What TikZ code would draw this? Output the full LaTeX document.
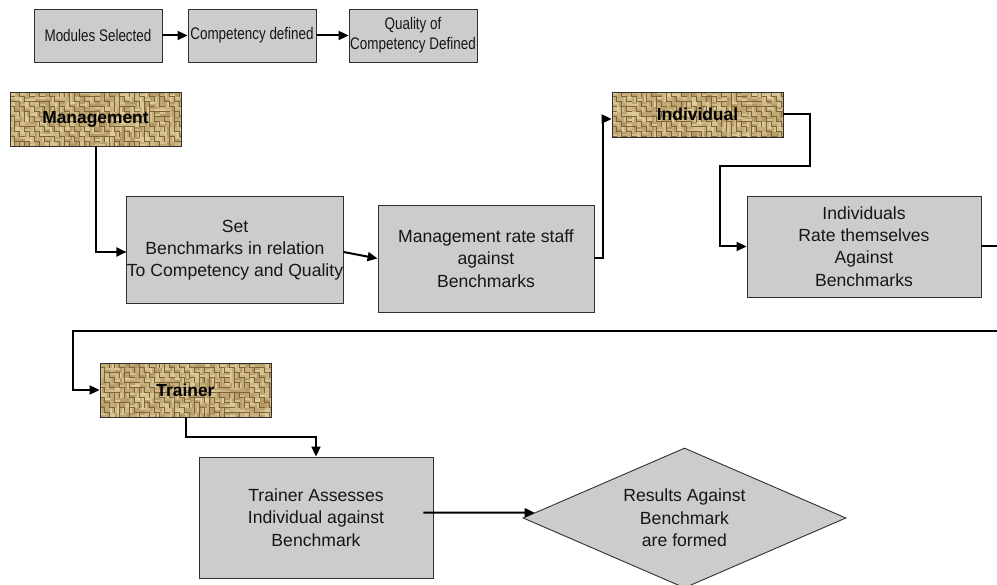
\documentclass[tikz,border=0pt]{standalone}
\usepackage{fontspec}
\setmainfont{Liberation Sans}
\newfontfamily\narrowfont{Liberation Sans}[FakeStretch=0.8]
\usetikzlibrary{arrows.meta,shapes.geometric}
\pgfdeclarelayer{background}
\pgfsetlayers{background,main}

\definecolor{boxfill}{HTML}{CCCCCC}
\definecolor{boxline}{HTML}{303030}
\definecolor{inkc}{HTML}{161616}
\definecolor{burlapbase}{HTML}{7E6238}
\definecolor{burlaplight}{HTML}{E2D1A2}
\definecolor{burlapmid}{HTML}{A4874F}

\tikzset{
  toprow/.style={draw=boxline, line width=0.9pt, fill=boxfill, text=inkc,
    minimum width=128pt, minimum height=53pt, inner sep=0pt, align=center,
    font=\narrowfont\fontsize{16.8}{22.7}\selectfont},
  stepbox/.style={draw=boxline, line width=0.9pt, fill=boxfill, text=inkc,
    inner sep=0pt, align=center, font=\fontsize{17.6}{22.3}\selectfont},
  rolebox/.style={draw=boxline, line width=0.9pt, text=black,
    minimum width=171pt, inner sep=0pt, font=\bfseries\fontsize{17.4}{21}\selectfont},
  decision/.style={diamond, aspect=2.3, draw=boxline, line width=0.9pt, fill=boxfill,
    text=inkc, minimum width=323pt, minimum height=140pt, inner sep=0pt, align=center,
    font=\fontsize{17.6}{22.4}\selectfont},
  arr/.style={line width=2pt, -{Triangle[length=10pt,width=9pt]}},
  wire/.style={line width=2pt},
  strand/.style={line width=1.6pt, line cap=butt}
}

% woven burlap texture filling the rectangle of a node
\newcommand{\burlapfill}[3]{% node, columns, rows
  \fill[burlapbase] (#1.north west) rectangle (#1.south east);
  \begin{scope}
    \clip (#1.north west) rectangle (#1.south east);
    \foreach \i in {0,...,#2} {
      \foreach \j in {0,...,#3} {
        \pgfmathtruncatemacro\parity{\i+\j+(rnd<0.15)}
        \pgfmathtruncatemacro\shadeA{20+75*rnd}
        \pgfmathtruncatemacro\shadeB{20+75*rnd}
        \ifodd\parity
          \draw[strand, burlaplight!\shadeA!burlapmid]
            ([shift={(5*\i+1.3,5*\j)}]#1.north west) -- ++(0,5);
          \draw[strand, burlaplight!\shadeB!burlapmid]
            ([shift={(5*\i+3.7,5*\j)}]#1.north west) -- ++(0,5);
        \else
          \draw[strand, burlaplight!\shadeA!burlapmid]
            ([shift={(5*\i,5*\j+1.3)}]#1.north west) -- ++(5,0);
          \draw[strand, burlaplight!\shadeB!burlapmid]
            ([shift={(5*\i,5*\j+3.7)}]#1.north west) -- ++(5,0);
        \fi
      }
    }
  \end{scope}}

\begin{document}
\begin{tikzpicture}[x=1pt, y=-1pt]
  \useasboundingbox (0,0) rectangle (997,585);

  % top row
  \node[toprow] (mods) at (98,35.5) {Modules Selected};
  \node[toprow] (comp) at (252,35.5) {Competency defined};
  \node[toprow] (qual) at (413,35.5) {\raisebox{-3pt}{Quality of}\\Competency Defined};
  \draw[arr] (mods) -- (comp);
  \draw[arr] (comp) -- (qual);

  % role labels
  \node[rolebox, minimum height=54pt] (mgmt) at (95.5,119) {Management};
  \node[rolebox, minimum height=45pt] (indl) at (697.5,114.5) {Individual};
  \node[rolebox, minimum height=54pt] (trn) at (185.5,390) {Trainer};

  % process steps
  \node[stepbox, minimum width=216pt, minimum height=107pt] (setb) at (235,250)
    {Set\\Benchmarks in relation\\To Competency and Quality};
  \node[stepbox, minimum width=216pt, minimum height=107pt] (rate) at (486,258.5)
    {Management rate staff\\against\\Benchmarks};
  \node[stepbox, minimum width=234pt, minimum height=101pt] (self) at (864,246.5)
    {Individuals\\Rate themselves\\Against\\Benchmarks};
  \node[stepbox, minimum width=234pt, minimum height=121pt] (asse) at (316,517.5)
    {Trainer Assesses\\Individual against\\Benchmark};
  \node[decision] (res) at (684.5,518) {Results Against\\Benchmark\\are formed};

  \begin{pgfonlayer}{background}
    \burlapfill{mgmt}{34}{10}
    \burlapfill{indl}{34}{9}
    \burlapfill{trn}{34}{10}
  \end{pgfonlayer}

  % bends and page-edge ends
  \coordinate (ka) at (810,166);
  \coordinate (kb) at (720,166);
  \coordinate (edgeA) at (997,246.5);
  \coordinate (edgeB) at (997,331);
  \coordinate (kc) at (73,331);

  % connectors
  \draw[arr] (mgmt.south) |- ([yshift=-2pt]setb.west);
  \draw[arr] ([yshift=-2pt]setb.east) -- (rate.west);
  \draw[arr] (rate.east) -- ++(9,0) |- ([yshift=-4.5pt]indl.west);
  \draw[arr] (indl.east) -| (ka) -- (kb) |- (self.west);
  \draw[wire] (self.east) -- (edgeA);
  \draw[arr] (edgeB) -- (kc) |- (trn.west);
  \draw[arr] (trn.south) -- ++(0,20) -| (asse.north);
  \draw[arr] ([shift={(-10,-5)}]asse.east) -- (res.178);
\end{tikzpicture}
\end{document}
